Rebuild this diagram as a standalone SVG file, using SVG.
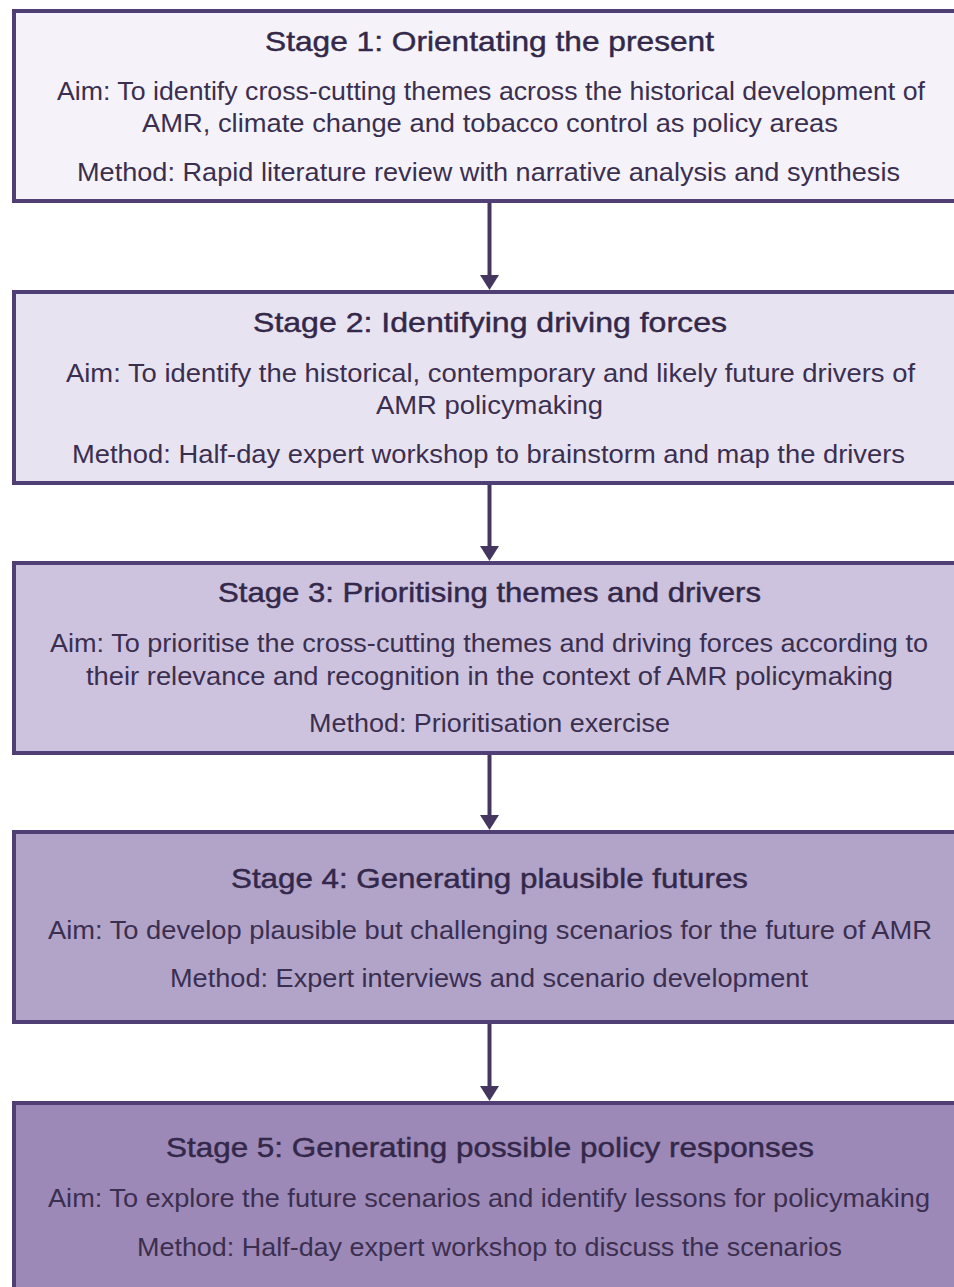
<svg xmlns="http://www.w3.org/2000/svg" width="954" height="1287" viewBox="0 0 954 1287">
<style>
.box{stroke:#4f3f74;stroke-width:4}
.t{font-family:"Liberation Sans",Arial,sans-serif;font-size:28px;fill:#33284a;stroke:#33284a;stroke-width:0.45;text-anchor:middle}
.b{font-family:"Liberation Sans",Arial,sans-serif;font-size:26px;fill:#3b2f50;text-anchor:middle}
.c{stroke:#45365f;stroke-width:4;fill:none}
.h{fill:#45365f}
</style>
<rect width="954" height="1287" fill="#ffffff"/>
<g id="stage1">
<rect class="box" x="14" y="11" width="1000" height="190" fill="#f5f3f9"/>
<text class="t" x="489.5" y="51" textLength="449" lengthAdjust="spacingAndGlyphs">Stage 1: Orientating the present</text>
<text class="b" x="491" y="100" textLength="868" lengthAdjust="spacingAndGlyphs">Aim: To identify cross-cutting themes across the historical development of</text>
<text class="b" x="490" y="132" textLength="696" lengthAdjust="spacingAndGlyphs">AMR, climate change and tobacco control as policy areas</text>
<text class="b" x="488.5" y="181" textLength="823" lengthAdjust="spacingAndGlyphs">Method: Rapid literature review with narrative analysis and synthesis</text>
</g>
<g id="stage2">
<rect class="box" x="14" y="292" width="1000" height="191" fill="#e8e3f0"/>
<text class="t" x="490" y="332" textLength="474" lengthAdjust="spacingAndGlyphs">Stage 2: Identifying driving forces</text>
<text class="b" x="490.5" y="382" textLength="849" lengthAdjust="spacingAndGlyphs">Aim: To identify the historical, contemporary and likely future drivers of</text>
<text class="b" x="489.5" y="414" textLength="227" lengthAdjust="spacingAndGlyphs">AMR policymaking</text>
<text class="b" x="488.5" y="463" textLength="833" lengthAdjust="spacingAndGlyphs">Method: Half-day expert workshop to brainstorm and map the drivers</text>
</g>
<g id="stage3">
<rect class="box" x="14" y="563" width="1000" height="190" fill="#cdc3de"/>
<text class="t" x="489.5" y="602" textLength="543" lengthAdjust="spacingAndGlyphs">Stage 3: Prioritising themes and drivers</text>
<text class="b" x="489" y="652" textLength="878" lengthAdjust="spacingAndGlyphs">Aim: To prioritise the cross-cutting themes and driving forces according to</text>
<text class="b" x="489.5" y="685" textLength="807" lengthAdjust="spacingAndGlyphs">their relevance and recognition in the context of AMR policymaking</text>
<text class="b" x="489.5" y="732" textLength="361" lengthAdjust="spacingAndGlyphs">Method: Prioritisation exercise</text>
</g>
<g id="stage4">
<rect class="box" x="14" y="832" width="1000" height="190" fill="#b2a3c9"/>
<text class="t" x="489.5" y="888" textLength="517" lengthAdjust="spacingAndGlyphs">Stage 4: Generating plausible futures</text>
<text class="b" x="490" y="939" textLength="884" lengthAdjust="spacingAndGlyphs">Aim: To develop plausible but challenging scenarios for the future of AMR</text>
<text class="b" x="489" y="987" textLength="638" lengthAdjust="spacingAndGlyphs">Method: Expert interviews and scenario development</text>
</g>
<g id="stage5">
<rect class="box" x="14" y="1103" width="1000" height="250" fill="#9d89b7"/>
<text class="t" x="490" y="1157" textLength="648" lengthAdjust="spacingAndGlyphs">Stage 5: Generating possible policy responses</text>
<text class="b" x="489" y="1207" textLength="882" lengthAdjust="spacingAndGlyphs">Aim: To explore the future scenarios and identify lessons for policymaking</text>
<text class="b" x="489.5" y="1256" textLength="705" lengthAdjust="spacingAndGlyphs">Method: Half-day expert workshop to discuss the scenarios</text>
</g>
<g id="connectors">
<line class="c" x1="489.5" y1="203" x2="489.5" y2="278"/>
<polygon class="h" points="480,275 499,275 489.5,290"/>
<line class="c" x1="489.5" y1="485" x2="489.5" y2="549"/>
<polygon class="h" points="480,546 499,546 489.5,561"/>
<line class="c" x1="489.5" y1="755" x2="489.5" y2="818"/>
<polygon class="h" points="480,815 499,815 489.5,830"/>
<line class="c" x1="489.5" y1="1024" x2="489.5" y2="1089"/>
<polygon class="h" points="480,1086 499,1086 489.5,1101"/>
</g>
</svg>
